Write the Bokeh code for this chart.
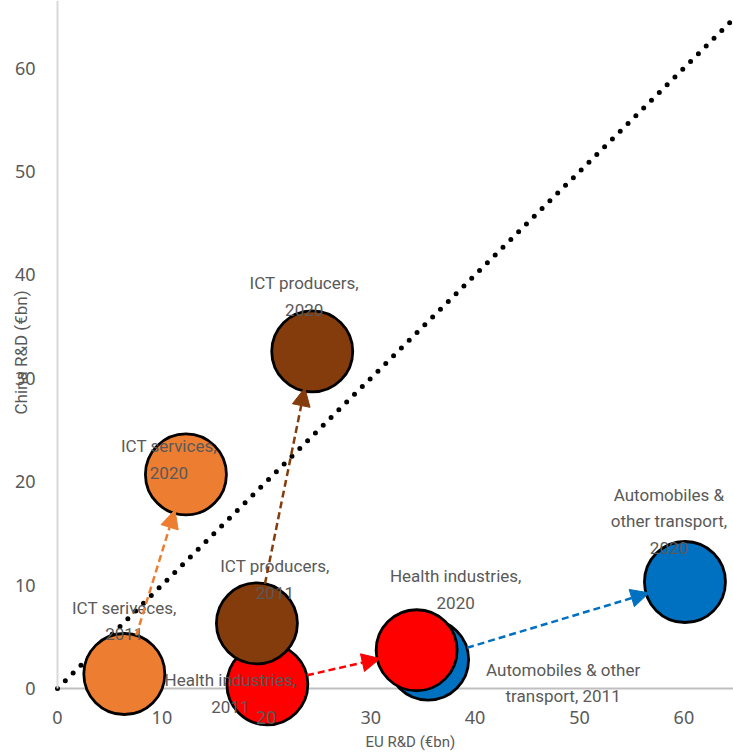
import math
from bokeh.plotting import figure
from bokeh.models import (Range1d, FixedTicker, Arrow, NormalHead, Label, ColumnDataSource)
from bokeh.core.properties import value
from bokeh.embed import file_html
from bokeh.resources import INLINE

# ---- data ----
sectors = ["ICT services", "ICT producers", "Health industries", "Automobiles & other transport"]
eu_2011 = [6.4, 19.1, 20.1, 35.5]
cn_2011 = [1.4, 6.3, 0.4, 2.8]
eu_2020 = [12.3, 24.4, 34.4, 60.1]
cn_2020 = [20.7, 32.6, 3.7, 10.3]
colors = ["#ED7D31", "#843C0C", "#FF0000", "#0070C0"]
labels_2011 = ["ICT seriveces,\n2011", "ICT producers,\n2011", "Health industries,\n2011",
               "Automobiles & other\ntransport, 2011"]
labels_2020 = ["ICT services,\n2020", "ICT producers,\n2020", "Health industries,\n2020",
               "Automobiles &\nother transport,\n2020"]
ticks = [0, 10, 20, 30, 40, 50, 60]
axis_max = 65

# ---- styling / placement (screen px) ----
off_2011 = [(0, -76), (18, -67), (-37, -14), (135, 0)]
off_2020 = [(-17, -38), (-8, -78), (39, -84), (-16, -97)]
bubble_px = 81
label_font = "Roboto"
tick_font = "Noto Sans"
text_col = "#595959"

p = figure(width=733, height=752, output_backend="svg", toolbar_location=None,
           x_range=Range1d(-5.46, 64.75), y_range=Range1d(-6.19, 66.54),
           min_border_left=0, min_border_right=0, min_border_top=0, min_border_bottom=0)
p.outline_line_color = None
p.xgrid.visible = False
p.ygrid.visible = False
p.background_fill_color = "white"

for ax in (p.xaxis, p.yaxis):
    ax.ticker = FixedTicker(ticks=ticks)
    ax.major_tick_line_color = None
    ax.minor_tick_line_color = None
    ax.major_label_text_font = tick_font
    ax.major_label_text_font_size = "18px"
    ax.major_label_text_color = text_col
    ax.fixed_location = 0
    ax.bounds = (0, 70)
p.xaxis.axis_line_color = None
p.yaxis.axis_line_color = "#d9d9d9"
p.yaxis.axis_line_width = 2
p.xaxis.major_label_standoff = 17
p.yaxis.major_label_standoff = 16

# x axis baseline (beneath the bubbles)
p.line([0, 70], [0, 0], line_color="#bfbfbf", line_width=2)

# diagonal 1:1 line
p.line([0, axis_max], [0, axis_max], line_color="black", line_width=5,
       line_dash="0 11", line_cap="round")

# bubbles: draw order per sector so overlaps match
order = [3, 2, 1, 0]
for i in order:
    p.scatter([eu_2011[i]], [cn_2011[i]], size=bubble_px, fill_color=colors[i],
              line_color="black", line_width=2.8)
    p.scatter([eu_2020[i]], [cn_2020[i]], size=bubble_px, fill_color=colors[i],
              line_color="black", line_width=2.8)

# arrows from 2011 to 2020 bubble edges
r_start, r_end = 3.9, 3.6
for i in range(len(sectors)):
    dx = eu_2020[i] - eu_2011[i]
    dy = cn_2020[i] - cn_2011[i]
    d = math.hypot(dx, dy)
    ux, uy = dx / d, dy / d
    p.add_layout(Arrow(
        end=NormalHead(size=18, fill_color=colors[i], line_color=colors[i], line_width=1),
        x_start=eu_2011[i] + r_start * ux, y_start=cn_2011[i] + r_start * uy,
        x_end=eu_2020[i] - r_end * ux, y_end=cn_2020[i] - r_end * uy,
        line_color=colors[i], line_width=2.5, line_dash="7 4"))

# bubble labels
src = ColumnDataSource(dict(
    x=eu_2011 + eu_2020, y=cn_2011 + cn_2020, t=labels_2011 + labels_2020,
    xo=[o[0] for o in off_2011 + off_2020], yo=[o[1] for o in off_2011 + off_2020]))
p.text(x="x", y="y", text="t", x_offset="xo", y_offset="yo", source=src,
       text_font=value(label_font), text_font_size="17px", text_color=text_col,
       text_align="center", text_baseline="top", text_line_height=1.32)

# axis titles
p.add_layout(Label(x=33.8, y=-5.2, text="EU R&D (€bn)", text_font=label_font,
                   text_font_size="15px", text_color=text_col, text_align="center",
                   text_baseline="middle"))
p.add_layout(Label(x=-3.45, y=32.5, text="China R&D (€bn)", text_font=label_font,
                   text_font_size="17px", text_color=text_col, text_align="center",
                   text_baseline="middle", angle=math.pi / 2))

open("out.html", "w").write(file_html(p, INLINE))
